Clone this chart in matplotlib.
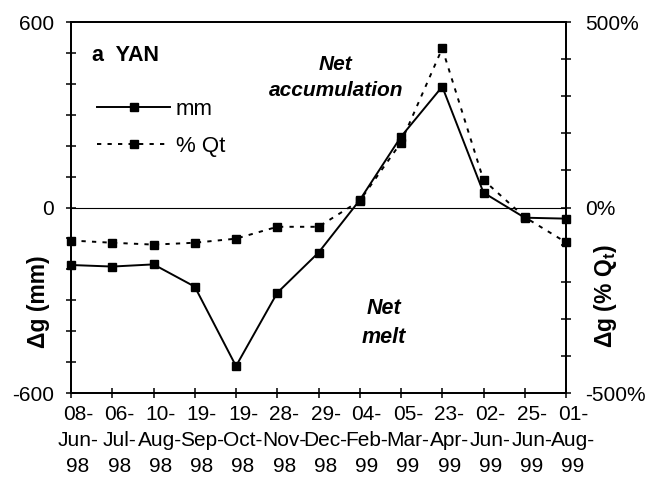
import matplotlib
matplotlib.use("Agg")
import matplotlib.pyplot as plt
import matplotlib.transforms as mtransforms
import numpy as np

plt.rcParams['font.family'] = ['Liberation Sans', 'DejaVu Sans']
plt.rcParams['mathtext.fontset'] = 'custom'
plt.rcParams['mathtext.bf'] = 'Liberation Sans:bold'
plt.rcParams['mathtext.rm'] = 'Liberation Sans'

# survey dates (categories) and values
dates = ['08-Jun-98', '06-Jul-98', '10-Aug-98', '19-Sep-98', '19-Oct-98',
         '28-Nov-98', '29-Dec-98', '04-Feb-99', '05-Mar-99', '23-Apr-99',
         '02-Jun-99', '25-Jun-99', '01-Aug-99']
mm = [-186, -191, -184, -256, -513, -276, -146, 24, 229, 391, 48, -33, -36]
pct_qt = [-89, -95, -100, -95, -84, -52, -52, 18, 175, 429, 74, -26, -94]

x = np.arange(len(dates))

fig = plt.figure(figsize=(6.6, 4.96), dpi=100)
ax = fig.add_axes([71 / 660, 1 - 393 / 496, 495 / 660, 371 / 496])
ax2 = ax.twinx()

# zero line
ax.axhline(0, color='black', lw=0.8, zorder=1)

dash = (0, (2.2, 3.2))
ax.plot(x, mm, color='black', lw=1.4, marker='s', ms=5.2, label='mm',
        clip_on=False, zorder=3)
ax2.plot(x, pct_qt, color='black', lw=1.4, ls=dash, marker='s',
         ms=5.2, clip_on=False, zorder=3)
# proxy for the dashed series so both entries sit in one legend
ax.plot([], [], color='black', lw=1.4, ls=dash, marker='s', ms=5.2,
        label='% Qt')

ax.set_xlim(0, len(dates) - 1)
ax.set_ylim(-600, 600)
ax2.set_ylim(-500, 500)

tick_fs = 15
# category labels: drawn as text so they can sit a little right of the tick
ax.set_xticks(x)
ax.set_xticklabels([])
lab_tr = mtransforms.blended_transform_factory(ax.transData, ax.transAxes) + \
    mtransforms.ScaledTranslation(7 / 100, -11.5 / 100, fig.dpi_scale_trans)
for i, d in enumerate(dates):
    ax.text(x[i], 0, d.replace('-', '-\n', 2), transform=lab_tr,
            ha='center', va='top', fontsize=tick_fs, linespacing=1.48,
            multialignment='center')

ax.set_yticks(np.arange(-600, 601, 100))
ax.set_yticklabels([str(v) if v in (-600, 0, 600) else ''
                    for v in range(-600, 601, 100)], fontsize=tick_fs)
ax2.set_yticks(np.arange(-500, 501, 100))
ax2.set_yticklabels(['%d%%' % v if v in (-500, 0, 500) else ''
                     for v in range(-500, 501, 100)], fontsize=tick_fs)

for a in (ax, ax2):
    a.tick_params(direction='inout', length=7, width=1.1)
    for s in a.spines.values():
        s.set_linewidth(1.3)
ax.tick_params(axis='y', pad=9)
ax2.tick_params(axis='y', pad=10)

lab_fs = 16.5
ax.set_ylabel('Δg (mm)', fontsize=lab_fs, fontweight='bold')
ax.yaxis.set_label_coords(-0.043, 0.245)
ax2.set_ylabel(r'Δg (% Q$_{\mathbf{t}}$)', fontsize=lab_fs, fontweight='bold')
ax2.yaxis.set_label_coords(1.053, 0.261)

ax.text(0.042, 0.91, 'a  YAN', transform=ax.transAxes, fontsize=15.5,
        fontweight='bold', va='center', ha='left')
ax.text(0.535, 0.85, 'Net\naccumulation', transform=ax.transAxes,
        fontsize=15, fontweight='bold', style='italic', ha='center',
        va='center', linespacing=1.5)
ax.text(0.632, 0.19, 'Net\nmelt', transform=ax.transAxes,
        fontsize=15.5, fontweight='bold', style='italic', ha='center',
        va='center', linespacing=1.5)

ax.legend(loc='upper left', bbox_to_anchor=(0.0525, 0.792), frameon=False,
          fontsize=16, handlelength=3.3, handletextpad=0.25,
          labelspacing=0.72, borderaxespad=0, borderpad=0)

fig.savefig('out.png', dpi=100)
